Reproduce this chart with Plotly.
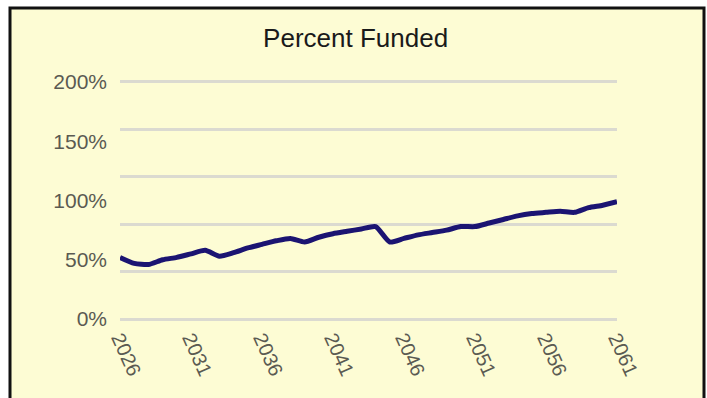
import plotly.graph_objects as go

# Funded ratio projection, one value per year
years = list(range(2026, 2062))
percent_funded = [
    52, 47, 46, 50, 52, 55, 58, 53, 56, 60,
    63, 66, 68, 65, 69, 72, 74, 76, 78, 65,
    68, 71, 73, 75, 78, 78, 81, 84, 87, 89,
    90, 91, 90, 94, 96, 99,
]
x_ticks = [2026, 2031, 2036, 2041, 2046, 2051, 2056, 2061]
y_label_vals = [0, 50, 100, 150, 200]
y_label_text = [f"{v}%" for v in y_label_vals]
y_grid_step = 40
y_pad = 2.5  # keeps the 0% and 200% grid lines inside the plot area

W, H = 707, 398
L, R, T, B = 120, 90, 79, 76
plot_w = W - L - R
plot_h = H - T - B


def px_to_paper_x(px):
    return (px - L) / plot_w


def px_to_paper_y(py):
    return (H - B - py) / plot_h


fig = go.Figure()
fig.add_trace(go.Scatter(
    x=years, y=percent_funded, mode="lines",
    line=dict(color="#1b1472", width=5, shape="spline", smoothing=0.6),
    hoverinfo="skip", showlegend=False,
))
# invisible trace so the label axis is drawn
fig.add_trace(go.Scatter(x=[years[0]], y=[0], yaxis="y2", mode="markers",
                         marker=dict(opacity=0), showlegend=False, hoverinfo="skip"))

fig.add_shape(
    type="rect", xref="paper", yref="paper", layer="below",
    x0=px_to_paper_x(10), x1=px_to_paper_x(704),
    y0=px_to_paper_y(420), y1=px_to_paper_y(8),
    fillcolor="#fdfcd4", line=dict(color="#111111", width=3),
)

tick_font = dict(family="Liberation Sans, Arial, sans-serif", size=21, color="#5a5a52")

fig.update_layout(
    width=W, height=H,
    margin=dict(l=L, r=R, t=T, b=B),
    paper_bgcolor="white",
    plot_bgcolor="rgba(0,0,0,0)",
    title=dict(text="Percent Funded", x=0.503, xanchor="center", y=1 - 38 / H, yanchor="middle",
               font=dict(family="Liberation Sans, Arial, sans-serif", size=26, color="#1a1a1a")),
    xaxis=dict(
        range=[years[0], years[-1]], tickvals=x_ticks, tickangle=66,
        showgrid=False, zeroline=False, showline=False, ticks="",
        tickfont=dict(tick_font, size=20), ticklabelstandoff=0,
    ),
    yaxis=dict(
        range=[-y_pad, 200 + y_pad], dtick=y_grid_step, tick0=0, showticklabels=False,
        showgrid=True, gridcolor="#dbdad0", gridwidth=2.5, zeroline=False, showline=False,
    ),
    yaxis2=dict(
        range=[-y_pad, 200 + y_pad], overlaying="y", side="left", tickvals=y_label_vals,
        ticktext=y_label_text, showgrid=False, zeroline=False, showline=False,
        tickfont=tick_font, ticklabelstandoff=12,
    ),
)

fig.write_html("out.html")
